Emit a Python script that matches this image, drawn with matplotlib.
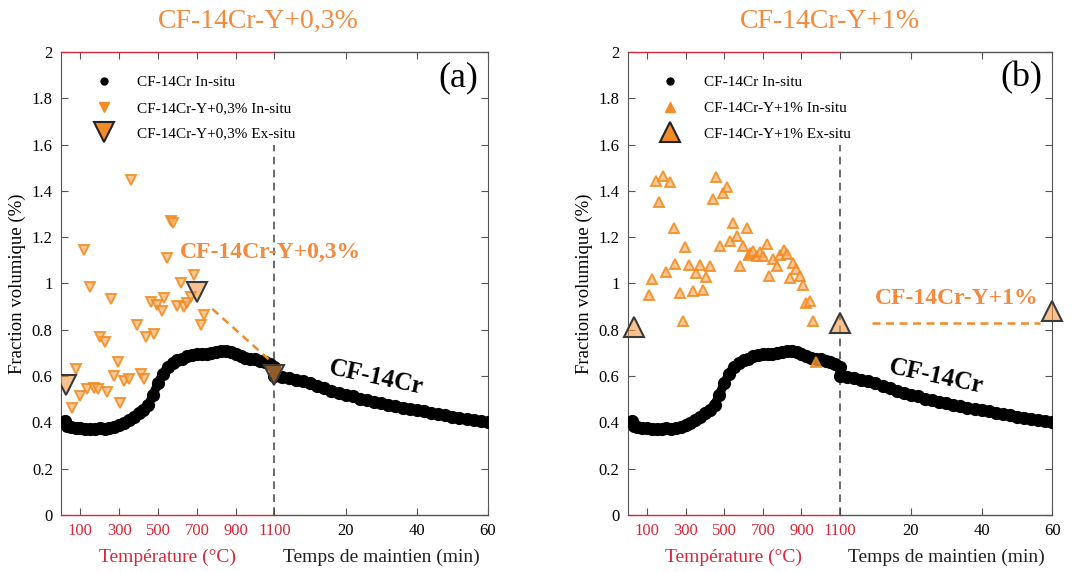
import numpy as np
import matplotlib.pyplot as plt
import matplotlib.transforms as mtransforms
from matplotlib.colors import to_rgba
from matplotlib.lines import Line2D

plt.rcParams['font.family'] = ['Liberation Serif', 'DejaVu Serif']

RED = '#D6283A'
ORANGE = '#F5893C'
GREY = '#555555'

T_END = 1100      # fin de la rampe (°C)
T_HOLD = 60       # durée du maintien (min)

# --- CF-14Cr in-situ (même courbe pour les deux figures) ---
ref_temp = [20, 30, 50, 75, 100, 125, 150, 175, 200, 225, 250, 275, 300, 325, 350,
            375, 400, 425, 450, 475, 500, 525, 550, 575, 600, 625, 650, 675, 700,
            725, 750, 775, 800, 825, 850, 875, 900, 925, 950, 975, 1000, 1025, 1050,
            1075, 1100]
ref_frac_temp = [0.405, 0.385, 0.378, 0.375, 0.374, 0.372, 0.373, 0.372, 0.374, 0.372,
                 0.375, 0.380, 0.388, 0.398, 0.410, 0.425, 0.440, 0.455, 0.475, 0.520,
                 0.570, 0.610, 0.640, 0.655, 0.668, 0.675, 0.685, 0.690, 0.695, 0.695,
                 0.697, 0.700, 0.703, 0.708, 0.710, 0.705, 0.695, 0.685, 0.678, 0.675,
                 0.672, 0.665, 0.660, 0.652, 0.640]
ref_time = [0, 2, 4, 6, 8, 10, 12, 14, 16, 18, 20, 22, 24, 26, 28, 30, 32, 34, 36, 38,
            40, 42, 44, 46, 48, 50, 52, 54, 56, 58, 60]
ref_frac_time = [0.600, 0.595, 0.590, 0.585, 0.577, 0.569, 0.558, 0.548, 0.537, 0.527,
                 0.518, 0.512, 0.503, 0.497, 0.488, 0.482, 0.476, 0.470, 0.464, 0.459,
                 0.454, 0.448, 0.442, 0.436, 0.431, 0.425, 0.420, 0.415, 0.410, 0.405,
                 0.400]

# --- CF-14Cr-Y+0,3% ---
y03_temp = [55, 76, 99, 121, 133, 152, 168, 190, 202, 225, 237, 256, 272, 292, 306, 323,
            349, 360, 393, 410, 427, 439, 462, 481, 496, 519, 531, 548, 565, 575, 597,
            617, 635, 649, 669, 685, 721, 735]
y03_frac = [0.464, 0.629, 0.514, 1.145, 0.543, 0.986, 0.547, 0.543, 0.770, 0.749, 0.530,
            0.935, 0.602, 0.662, 0.485, 0.579, 0.586, 1.447, 0.821, 0.608, 0.586, 0.767,
            0.920, 0.782, 0.907, 0.883, 0.938, 1.109, 1.270, 1.260, 0.903, 1.003, 0.900,
            0.914, 0.943, 1.035, 0.821, 0.864]
y03_ex_temp = [25, 700, 1100]
y03_ex_frac = [0.56, 0.965, 0.605]
y03_trend_temp = [780, 1080]
y03_trend_frac = [0.89, 0.665]

# --- CF-14Cr-Y+1% ---
y1_temp = [111, 125, 148, 164, 183, 200, 217, 238, 247, 270, 287, 299, 320, 339, 355, 372,
           392, 404, 425, 442, 456, 478, 496, 512, 531, 543, 564, 581, 599, 616, 627, 634,
           651, 669, 686, 700, 721, 734, 752, 773, 790, 808, 825, 839, 857, 874, 891, 909,
           926, 944, 961, 978]
y1_frac = [0.950, 1.018, 1.444, 1.350, 1.464, 1.048, 1.437, 1.238, 1.084, 0.958, 0.839,
           1.159, 1.078, 0.969, 1.047, 1.078, 0.972, 1.029, 1.076, 1.364, 1.461, 1.162,
           1.390, 1.418, 1.185, 1.263, 1.205, 1.077, 1.162, 1.241, 1.123, 1.133, 1.142,
           1.120, 1.137, 1.119, 1.171, 1.034, 1.105, 1.076, 1.123, 1.145, 1.127, 1.022,
           1.090, 1.061, 1.032, 0.994, 0.917, 0.926, 0.839, 0.662]
y1_ex_temp = [30, 1100]
y1_ex_frac = [0.81, 0.83]
y1_ex_time = [60]
y1_ex_time_frac = [0.883]
y1_trend_time = [9, 56.5]


def tu(t):
    # temps de maintien (min) -> abscisse commune après la rampe
    return T_END + np.asarray(t, dtype=float) * T_END / T_HOLD


temp_ticks = [100, 300, 500, 700, 900, 1100]
time_ticks = [20, 40, 60]

insitu_kw = dict(ls='none', ms=6.5, mew=1.4, mfc=to_rgba('#F8B06A', 0.7),
                 mec=to_rgba('#F28A1E', 0.85), zorder=4)
exsitu_kw = dict(ls='none', ms=14, mew=1.5, mfc=to_rgba('#F39A45', 0.6),
                 mec='#3a3a3a', zorder=5)


def setup(ax, title, title_x, tag, marker, name):
    ax.set_xlim(0, 2 * T_END)
    ax.set_ylim(0, 2)
    ax.set_yticks(np.arange(0, 2.01, 0.2))
    ax.set_yticklabels(['0', '0.2', '0.4', '0.6', '0.8', '1', '1.2', '1.4', '1.6', '1.8', '2'])
    xt = list(temp_ticks) + list(tu(time_ticks))
    ax.set_xticks(xt)
    ax.set_xticklabels([str(t) for t in temp_ticks] + [str(t) for t in time_ticks])
    ax.tick_params(direction='in', top=True, right=True, length=5, labelsize=12,
                   color=GREY, pad=6)
    for i, tick in enumerate(ax.xaxis.get_major_ticks()):
        if i < len(temp_ticks):
            tick.label1.set_color(RED)
            tick.tick1line.set_color(RED)
            tick.tick2line.set_color(RED)

    for s in ['bottom', 'top']:
        ax.spines[s].set_visible(False)
    for s in ['left', 'right']:
        ax.spines[s].set_color(GREY)
    trans = mtransforms.blended_transform_factory(ax.transData, ax.transAxes)
    for yy in [0, 1]:
        ax.plot([0, T_END], [yy, yy], transform=trans, color=RED, lw=1.0, clip_on=False)
        ax.plot([T_END, 2 * T_END], [yy, yy], transform=trans, color=GREY, lw=1.0,
                clip_on=False)

    ax.plot([T_END, T_END], [0, 1.6], color='#444444', lw=1.1, dashes=(5, 3.5), zorder=2)

    ax.text(T_END / 2, -0.091, 'Température (°C)', transform=trans, ha='center',
            va='center', color=RED, fontsize=14)
    ax.text(T_END * 1.5, -0.091, 'Temps de maintien (min)', transform=trans,
            ha='center', va='center', color='#222222', fontsize=14)
    ax.set_ylabel('Fraction volumique (%)', fontsize=13.5, labelpad=4)

    ax.text(title_x, 1.065, title, transform=ax.transAxes, ha='center', va='center',
            color=ORANGE, fontsize=20)
    ax.text(0.977, 0.944, tag, transform=ax.transAxes, ha='right', va='center',
            fontsize=26)

    # courbe de référence
    xs = np.concatenate([ref_temp, tu(ref_time)])
    ys = np.concatenate([ref_frac_temp, ref_frac_time])
    ax.plot(xs, ys, color='k', lw=6.5, marker='o', ms=8.5, zorder=3)

    handles = [
        Line2D([], [], ls='none', marker='o', color='k', ms=5),
        Line2D([], [], ls='none', marker=marker, mfc='#F28C28', mec='#F28C28', ms=6.5),
        Line2D([], [], ls='none', marker=marker, mfc='#F28C28', mec='#222222', mew=1.5,
               ms=14),
    ]
    labels = ['CF-14Cr In-situ', name + ' In-situ', name + ' Ex-situ']
    ax.legend(handles, labels, loc='upper left', bbox_to_anchor=(0.05, 0.962),
              frameon=False, fontsize=11, handletextpad=1.2, labelspacing=0.78,
              borderaxespad=0, handlelength=2)


fig = plt.figure(figsize=(10.81, 5.72), dpi=100)
ax1 = fig.add_axes([0.0564, 0.0997, 0.395, 0.8094])
ax2 = fig.add_axes([0.5807, 0.0997, 0.3928, 0.8094])

# (a) Y+0,3%
setup(ax1, 'CF-14Cr-Y+0,3%', 0.461, '(a)', 'v', 'CF-14Cr-Y+0,3%')
ax1.plot(y03_temp, y03_frac, marker='v', **insitu_kw)
ax1.plot(y03_trend_temp, y03_trend_frac, color='#F28C28', lw=1.8, dashes=(3.2, 2.2),
         zorder=4)
ax1.plot(y03_ex_temp, y03_ex_frac, marker='v', **exsitu_kw)
ax1.text(1077, 1.132, 'CF-14Cr-Y+0,3%', ha='center', va='center', color=ORANGE,
         fontsize=17, fontweight='bold', zorder=6)
ax1.text(1623, 0.592, 'CF-14Cr', ha='center', va='center', fontsize=18,
         fontweight='bold', rotation=-12, rotation_mode='anchor')

# (b) Y+1%
setup(ax2, 'CF-14Cr-Y+1%', 0.476, '(b)', '^', 'CF-14Cr-Y+1%')
ax2.plot(y1_temp, y1_frac, marker='^', **insitu_kw)
ax2.plot(tu(y1_trend_time), [y1_ex_frac[1]] * 2, color='#F28C28', lw=1.8,
         dashes=(3.2, 2.2), zorder=4)
ax2.plot(y1_ex_temp, y1_ex_frac, marker='^', clip_on=False, **exsitu_kw)
ax2.plot(tu(y1_ex_time), y1_ex_time_frac, marker='^', clip_on=False, **exsitu_kw)
ax2.text(1702, 0.933, 'CF-14Cr-Y+1%', ha='center', va='center', color=ORANGE,
         fontsize=17, fontweight='bold')
ax2.text(1596, 0.596, 'CF-14Cr', ha='center', va='center', fontsize=18,
         fontweight='bold', rotation=-12, rotation_mode='anchor')

fig.savefig('out.png', dpi=100)
